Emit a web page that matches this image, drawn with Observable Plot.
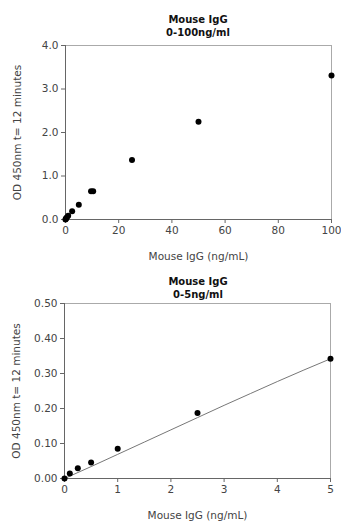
<!DOCTYPE html>
<html><head><meta charset="utf-8">
<script src="https://cdn.jsdelivr.net/npm/d3@7"></script>
<script src="https://cdn.jsdelivr.net/npm/@observablehq/plot@0.6"></script>
<style>
body{margin:0;background:#fff;font-family:"DejaVu Sans",sans-serif;}
#wrap{position:relative;width:341px;height:523px;overflow:hidden;}
.title{position:absolute;text-align:center;font-weight:bold;font-size:10px;line-height:13px;color:#111;width:200px;}
.chart{position:absolute;left:0;}
</style></head>
<body><div id="wrap">
<div class="chart" id="c1" style="top:0px;"></div>
<div class="chart" id="c2" style="top:268px;"></div>
<div class="title" id="t1" style="left:98px;top:13px;">Mouse IgG<br>0-100ng/ml</div>
<div class="title" id="t2" style="left:98px;top:275px;">Mouse IgG<br>0-5ng/ml</div>
</div>
<script>
// Chart 1: 0-100 ng/ml
const conc1 = [0, 0.1, 0.25, 0.5, 1, 2.5, 5, 9.6, 10.4, 25, 50, 100];
const od1   = [0, 0.013, 0.028, 0.045, 0.085, 0.19, 0.34, 0.65, 0.65, 1.37, 2.25, 3.31];
const xTicks1 = [0, 20, 40, 60, 80, 100];
const yTicks1 = [0, 1, 2, 3, 4];

// Chart 2: 0-5 ng/ml
const conc2 = [0, 0.1, 0.25, 0.5, 1, 2.5, 5];
const od2   = [0, 0.014, 0.029, 0.046, 0.085, 0.187, 0.342];
const fitX2 = [0, 0.5, 1, 1.5, 2, 2.5, 3, 3.5, 4, 4.5, 5];
const fitY2 = [0, 0.034, 0.069, 0.104, 0.139, 0.174, 0.209, 0.243, 0.277, 0.310, 0.342];
const xTicks2 = [0, 1, 2, 3, 4, 5];
const yTicks2 = [0, 0.1, 0.2, 0.3, 0.4, 0.5];

const yLabel = "OD 450nm t= 12 minutes";
const xLabel = "Mouse IgG (ng/mL)";

const pts1 = conc1.map((c, i) => ({x: c, y: od1[i]}));
const pts2 = conc2.map((c, i) => ({x: c, y: od2[i]}));
const fit2 = fitX2.map((c, i) => ({x: c, y: fitY2[i]}));

const common = {
  width: 341,
  style: {fontFamily: "'DejaVu Sans', sans-serif", fontSize: "10.5px", color: "#444", background: "transparent"}
};

function axes(xt, yt, yfmt) {
  return [
    Plot.frame({stroke: "#aaa", strokeWidth: 1}),
    Plot.axisX({ticks: xt, tickSize: 4, tickPadding: 3, stroke: "#666", tickFormat: d3.format("d"), label: xLabel, labelAnchor: "center", labelArrow: "none", labelOffset: 40, fill: "#444"}),
    Plot.axisY({ticks: yt, tickSize: 4, tickPadding: 3, stroke: "#666", tickFormat: yfmt, label: yLabel, labelAnchor: "center", labelArrow: "none", labelOffset: 52, fill: "#444"}),
    Plot.ruleX([xt[0]], {stroke: "#666"}),
    Plot.ruleY([yt[0]], {stroke: "#666"})
  ];
}

const p1 = Plot.plot({
  ...common,
  height: 268,
  marginLeft: 65, marginRight: 10, marginTop: 45, marginBottom: 49,
  x: {domain: [0, 100]},
  y: {domain: [0, 4]},
  marks: [
    ...axes(xTicks1, yTicks1, d3.format(".1f")),
    Plot.dot(pts1, {x: "x", y: "y", r: 3, fill: "#000", stroke: "none"})
  ]
});
document.getElementById("c1").append(p1);

const p2 = Plot.plot({
  ...common,
  height: 255,
  marginLeft: 64, marginRight: 11, marginTop: 35, marginBottom: 45,
  x: {domain: [0, 5]},
  y: {domain: [0, 0.5]},
  marks: [
    ...axes(xTicks2, yTicks2, d3.format(".2f")),
    Plot.line(fit2, {x: "x", y: "y", stroke: "#777", strokeWidth: 1}),
    Plot.dot(pts2, {x: "x", y: "y", r: 3, fill: "#000", stroke: "none"})
  ]
});
document.getElementById("c2").append(p2);
</script>
</body></html>
